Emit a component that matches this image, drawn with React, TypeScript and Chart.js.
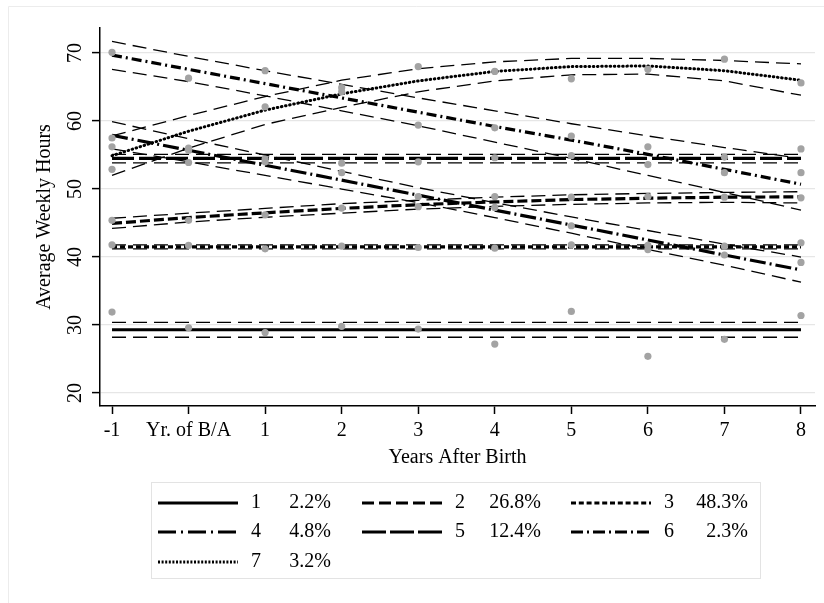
import React, { useEffect, useRef } from 'react';
import { Chart, registerables } from 'chart.js';

Chart.register(...registerables);

// ---------------- data ----------------
const years = [-1, 0, 1, 2, 3, 4, 5, 6, 7, 8];
const xTickLabels = ['-1', 'Yr. of B/A', '1', '2', '3', '4', '5', '6', '7', '8'];
const yTicks = [20, 30, 40, 50, 60, 70];

const classLabels = ['1', '2', '3', '4', '5', '6', '7'];
const classShares = ['2.2%', '26.8%', '48.3%', '4.8%', '12.4%', '2.3%', '3.2%'];

// fitted trajectories
const fit1 = [29.3, 29.3, 29.3, 29.3, 29.3, 29.3, 29.3, 29.3, 29.3, 29.3];
const fit2 = [44.95, 45.8, 46.5, 47.15, 47.7, 48.1, 48.45, 48.65, 48.8, 48.85];
const fit3 = [41.5, 41.5, 41.5, 41.5, 41.5, 41.5, 41.5, 41.5, 41.5, 41.5];
const fit4 = [57.9, 55.7, 53.5, 51.3, 49.1, 46.9, 44.7, 42.5, 40.3, 38.1];
const fit5 = [54.5, 54.5, 54.5, 54.5, 54.5, 54.5, 54.5, 54.5, 54.5, 54.5];
const fit6 = [69.7, 67.6, 65.5, 63.4, 61.3, 59.2, 57.2, 55.1, 52.9, 50.7];
const fit7 = [54.9, 58.5, 61.6, 64.0, 65.9, 67.3, 68.0, 68.1, 67.4, 66.0];

// upper 95% CI
const upper1 = [30.4, 30.4, 30.4, 30.4, 30.4, 30.4, 30.4, 30.4, 30.4, 30.4];
const upper2 = [45.7, 46.45, 47.15, 47.85, 48.35, 48.8, 49.15, 49.35, 49.5, 49.6];
const upper3 = [41.8, 41.8, 41.8, 41.8, 41.8, 41.8, 41.8, 41.8, 41.8, 41.8];
const upper4 = [59.9, 57.4, 55.0, 52.6, 50.2, 48.0, 45.9, 43.9, 41.9, 40.0];
const upper5 = [55.1, 55.1, 55.1, 55.1, 55.1, 55.1, 55.1, 55.1, 55.1, 55.1];
const upper6 = [71.7, 69.5, 67.4, 65.4, 63.4, 61.5, 59.6, 57.8, 56.1, 54.5];
const upper7 = [57.8, 60.8, 63.6, 66.0, 67.7, 68.7, 69.2, 69.2, 68.9, 68.4];

// lower 95% CI
const lower1 = [28.2, 28.2, 28.2, 28.2, 28.2, 28.2, 28.2, 28.2, 28.2, 28.2];
const lower2 = [44.2, 45.15, 45.85, 46.45, 47.05, 47.45, 47.75, 47.95, 48.05, 47.95];
const lower3 = [41.2, 41.2, 41.2, 41.2, 41.2, 41.2, 41.2, 41.2, 41.2, 41.2];
const lower4 = [55.9, 54.0, 52.0, 50.0, 48.0, 45.8, 43.5, 41.1, 38.8, 36.3];
const lower5 = [53.85, 53.85, 53.85, 53.85, 53.85, 53.85, 53.85, 53.85, 53.85, 53.85];
const lower6 = [67.6, 65.8, 63.7, 61.5, 59.3, 56.9, 54.5, 52.0, 49.5, 46.9];
const lower7 = [52.0, 56.0, 59.5, 62.0, 64.3, 65.9, 66.8, 66.9, 65.9, 63.8];

// observed class means (gray dots)
const obs1 = [31.9, 29.6, 28.9, 29.8, 29.4, 27.2, 32.0, 25.4, 27.9, 31.4];
const obs2 = [45.4, 45.4, 46.2, 47.2, 47.4, 47.3, 48.8, 48.9, 48.8, 48.7];
const obs3 = [41.8, 41.7, 41.2, 41.6, 41.4, 41.3, 41.8, 41.1, 41.6, 42.1];
const obs4 = [57.5, 55.7, 54.0, 52.4, 48.9, 48.9, 44.6, 41.7, 40.3, 39.2];
const obs5 = [56.2, 56.0, 54.4, 53.8, 54.0, 54.6, 54.9, 53.6, 54.7, 55.9];
const obs6 = [70.1, 66.3, 67.4, 64.9, 59.4, 59.0, 57.8, 56.2, 52.4, 52.4];
const obs7 = [52.9, 53.9, 62.1, 64.3, 68.0, 67.3, 66.2, 67.6, 69.1, 65.6];

const fits = [fit1, fit2, fit3, fit4, fit5, fit6, fit7];
const uppers = [upper1, upper2, upper3, upper4, upper5, upper6, upper7];
const lowers = [lower1, lower2, lower3, lower4, lower5, lower6, lower7];
const observed = [obs1, obs2, obs3, obs4, obs5, obs6, obs7];

// ---------------- styles ----------------
const FONT = '"Liberation Serif", "Times New Roman", serif';
const lineDashes: number[][] = [
  [],
  [10, 4],
  [5, 3],
  [16, 4, 2, 4],
  [22, 5],
  [10, 4, 2, 4],
  [0.6, 3.6],
];
const lineCaps = ['butt', 'butt', 'butt', 'butt', 'butt', 'butt', 'round'];
const legendDashes: number[][] = [
  [],
  [12, 5],
  [5, 2.8],
  [18, 5, 2, 5],
  [24, 4],
  [12, 4, 2, 4],
  [2, 1.6],
];
const ciDash = [14, 7];
const dotColor = '#a3a3a3';

const toXY = (vals: number[]) => vals.map((v, i) => ({ x: years[i], y: v }));

const framePlugin = {
  id: 'frame',
  beforeDraw(chart: any) {
    const ctx = chart.ctx;
    ctx.save();
    ctx.fillStyle = '#ffffff';
    ctx.fillRect(0, 0, chart.width, chart.height);
    ctx.strokeStyle = '#ececec';
    ctx.lineWidth = 1;
    ctx.beginPath();
    ctx.moveTo(8.5, chart.height);
    ctx.lineTo(8.5, 6.5);
    ctx.lineTo(chart.width, 6.5);
    ctx.stroke();
    ctx.restore();
  },
};

const legendPlugin = {
  id: 'customLegend',
  afterDraw(chart: any) {
    const ctx = chart.ctx;
    ctx.save();
    ctx.strokeStyle = '#e3e3e3';
    ctx.lineWidth = 1;
    ctx.strokeRect(151.5, 482.5, 609, 96);
    const lineX0 = [158, 362, 571];
    const numX = [251, 455, 664];
    const pctRight = [331, 541, 748];
    const rowY = [503, 532, 562];
    ctx.font = `20px ${FONT}`;
    ctx.fillStyle = '#000';
    ctx.textBaseline = 'middle';
    classLabels.forEach((lab, i) => {
      const col = i % 3;
      const row = Math.floor(i / 3);
      const y = rowY[row];
      ctx.strokeStyle = '#000';
      ctx.lineWidth = 3;
      ctx.setLineDash(legendDashes[i]);
      ctx.beginPath();
      ctx.moveTo(lineX0[col], y);
      ctx.lineTo(lineX0[col] + 80, y);
      ctx.stroke();
      ctx.setLineDash([]);
      ctx.textAlign = 'left';
      ctx.fillText(lab, numX[col], y);
      ctx.textAlign = 'right';
      ctx.fillText(classShares[i], pctRight[col], y);
    });
    ctx.restore();
  },
};

export default function App() {
  const ref = useRef<HTMLCanvasElement | null>(null);

  useEffect(() => {
    if (!ref.current) return;
    const datasets: any[] = [];
    observed.forEach((vals, i) => {
      datasets.push({
        label: `obs${i + 1}`,
        data: toXY(vals),
        showLine: false,
        pointRadius: 3.6,
        pointBorderWidth: 0,
        pointBackgroundColor: dotColor,
        pointHoverRadius: 3.6,
        order: 0,
      });
    });
    fits.forEach((vals, i) => {
      datasets.push({
        label: `fit${i + 1}`,
        data: toXY(vals),
        borderColor: '#000',
        borderWidth: i === 6 ? 3 : 3.2,
        borderDash: lineDashes[i],
        borderCapStyle: lineCaps[i],
        pointRadius: 0,
        tension: 0,
        fill: false,
        order: 1,
      });
    });
    uppers.forEach((vals, i) => {
      datasets.push({
        label: `up${i + 1}`,
        data: toXY(vals),
        borderColor: '#000',
        borderWidth: 1.3,
        borderDash: ciDash,
        pointRadius: 0,
        tension: 0,
        fill: false,
        order: 2,
      });
    });
    lowers.forEach((vals, i) => {
      datasets.push({
        label: `lo${i + 1}`,
        data: toXY(vals),
        borderColor: '#000',
        borderWidth: 1.3,
        borderDash: ciDash,
        pointRadius: 0,
        tension: 0,
        fill: false,
        order: 2,
      });
    });

    const chart = new Chart(ref.current, {
      type: 'line',
      data: { datasets },
      plugins: [framePlugin, legendPlugin],
      options: {
        animation: false,
        responsive: false,
        devicePixelRatio: 1,
        layout: { padding: { left: 0, top: 28, right: 9, bottom: 133 } },
        plugins: { legend: { display: false }, tooltip: { enabled: false } },
        scales: {
          x: {
            type: 'linear',
            min: -1.157,
            max: 8.183,
            afterBuildTicks: (s: any) => {
              s.ticks = years.map((v) => ({ value: v }));
            },
            afterFit: (s: any) => {
              s.height = 64;
            },
            ticks: {
              autoSkip: false,
              maxRotation: 0,
              minRotation: 0,
              padding: 5,
              color: '#000',
              font: { family: FONT, size: 20 },
              callback: (v: any) => {
                const idx = years.indexOf(Number(v));
                return idx >= 0 ? xTickLabels[idx] : '';
              },
            },
            grid: {
              drawOnChartArea: false,
              drawTicks: true,
              tickLength: 8,
              tickColor: '#000',
              tickWidth: 1.5,
            },
            border: { display: true, color: '#000', width: 1.5 },
            title: {
              display: true,
              text: 'Years After Birth',
              color: '#000',
              font: { family: FONT, size: 20 },
              padding: { top: 0, bottom: 0 },
            },
          },
          y: {
            type: 'linear',
            min: 18.09,
            max: 73.68,
            afterBuildTicks: (s: any) => {
              s.ticks = yTicks.map((v) => ({ value: v }));
            },
            afterFit: (s: any) => {
              s.width = 100;
            },
            ticks: {
              autoSkip: false,
              minRotation: 90,
              maxRotation: 90,
              crossAlign: 'center',
              padding: 6,
              color: '#000',
              font: { family: FONT, size: 20 },
            },
            grid: {
              color: '#e6e6e6',
              lineWidth: 1.2,
              drawTicks: true,
              tickLength: 8,
              tickColor: '#000',
              tickWidth: 1.5,
            },
            border: { display: true, color: '#000', width: 1.5 },
            title: {
              display: true,
              text: 'Average Weekly Hours',
              color: '#000',
              font: { family: FONT, size: 20 },
              padding: { top: 33, bottom: 0 },
            },
          },
        },
      } as any,
    });
    return () => chart.destroy();
  }, []);

  return (
    <div style={{ position: 'fixed', left: 0, top: 0, width: 824, height: 603, background: '#fff' }}>
      <canvas ref={ref} width={824} height={603} style={{ display: 'block', width: 824, height: 603 }} />
    </div>
  );
}
